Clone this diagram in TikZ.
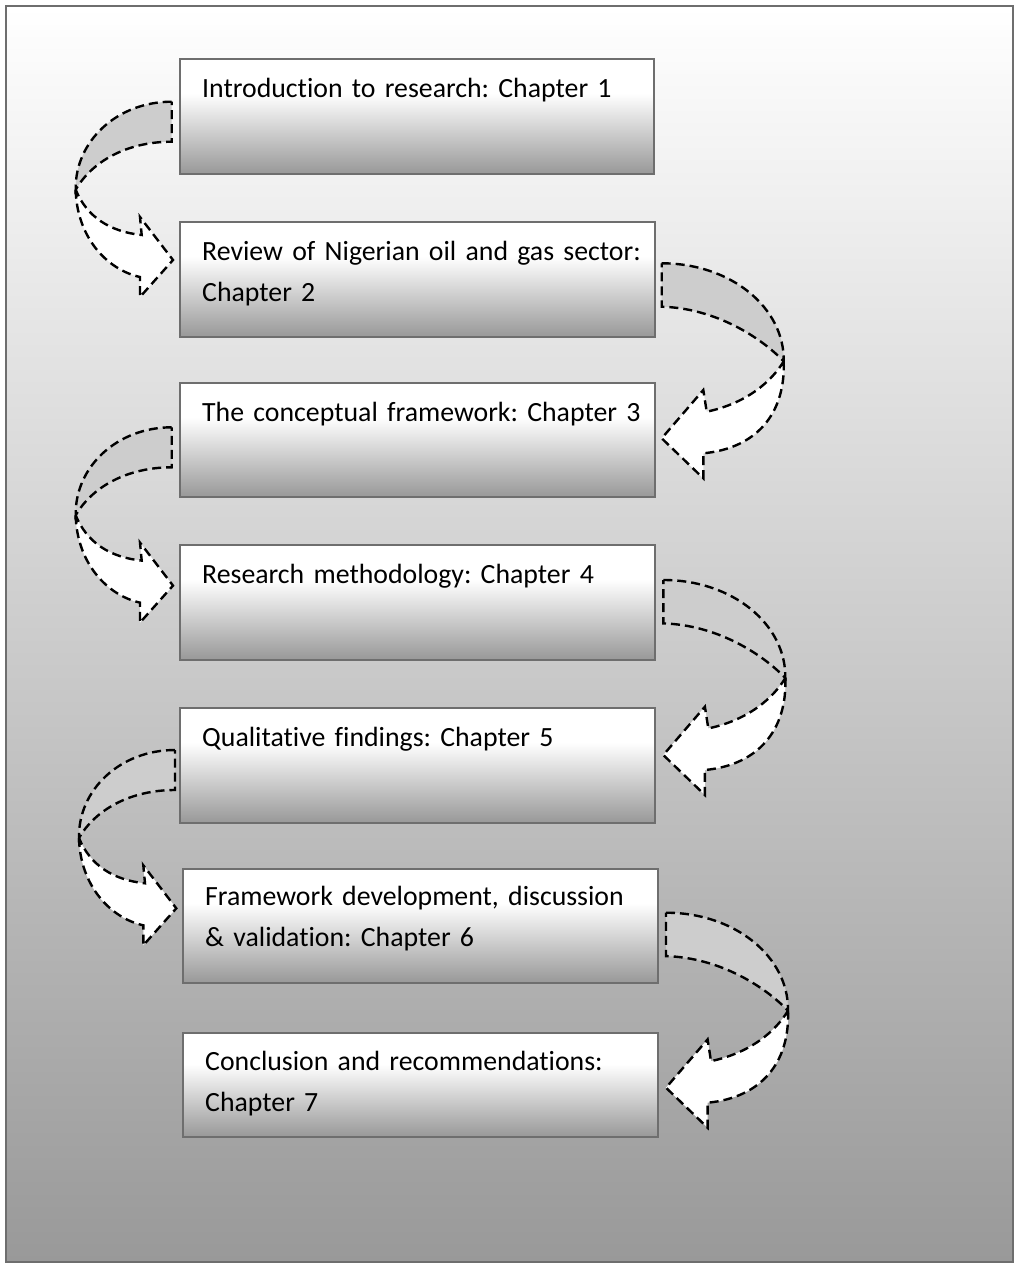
\documentclass[tikz,border=0pt]{standalone}
\usepackage{fontspec}
\setmainfont{Carlito}[RawFeature={-liga;-clig;-calt;-dlig}]
\usetikzlibrary{calc}
\definecolor{bgbot}{HTML}{999999}
\definecolor{framec}{HTML}{6E6E6E}
\definecolor{boxbot}{HTML}{989898}
\definecolor{backc}{HTML}{CDCDCD}
\pgfdeclareverticalshading{chapshade}{100bp}{color(0bp)=(boxbot); color(25bp)=(boxbot); color(60bp)=(white); color(75bp)=(white); color(100bp)=(white)}
\tikzset{
  chapbox/.style={draw=framec, line width=2.6pt, shade, shading=chapshade, anchor=north west, inner sep=0pt, outer sep=0pt, minimum width=475pt, minimum height=115pt},
  chaptext/.style={anchor=base west, inner sep=0pt, text width=450pt, align=left, font=\fontsize{27.8pt}{41pt}\selectfont\frenchspacing},
  arrowline/.style={draw=black, line width=2.4pt, dash pattern=on 9pt off 5pt},
  pics/larrow/.style={code={
    \path[arrowline, fill=white] (-96,88) .. controls (-95,135) and (-65,168) .. (-31.7,175.3) -- (-31.7,195.3) -- (1.3,158.3) -- (-31.7,115.3) -- (-30,133.3) .. controls (-62,130) and (-85,115) .. (-96,88) -- cycle;
    \path[arrowline, fill=backc] (0,0) .. controls (-55,0) and (-97,40) .. (-96,88) .. controls (-80,60) and (-45,40) .. (0,40) -- cycle;
  }},
  pics/rarrow/.style={code={
    \path[arrowline, fill=white] (122,98) .. controls (124,150) and (95,185) .. (41.6,190) -- (41.6,215) -- (0,175) -- (41.6,126.7) -- (45,148.4) .. controls (85,140) and (110,118) .. (122,98) -- cycle;
    \path[arrowline, fill=backc] (0,0) .. controls (70,0) and (123,45) .. (122,98) .. controls (100,75) and (55,45) .. (0,43.4) -- cycle;
  }},
}
\begin{document}
\begin{tikzpicture}[x=1pt,y=-1pt]
\useasboundingbox (0,0) rectangle (1019,1267);
\path[top color=white, bottom color=bgbot, draw=framec, line width=2.6pt] (6,6) rectangle (1013,1262);

\node[chapbox, minimum width=474pt] (b1) at (180,59) {};
\node[chapbox] (b2) at (180,222) {};
\node[chapbox, minimum height=114pt] (b3) at (180,383) {};
\node[chapbox] (b4) at (180,545) {};
\node[chapbox] (b5) at (180,708) {};
\node[chapbox, minimum height=114pt] (b6) at (183,869) {};
\node[chapbox, minimum height=104pt] (b7) at (183,1033) {};

\node[chaptext] (t1) at ($(b1.north west)+(22,38)$) {Introduction to research: Chapter 1};
\node[chaptext] (t2) at ($(b2.north west)+(22,38)$) {Review of Nigerian oil and gas sector:\\Chapter 2};
\node[chaptext] (t3) at ($(b3.north west)+(22,38)$) {The conceptual framework: Chapter 3};
\node[chaptext] (t4) at ($(b4.north west)+(22,38)$) {Research methodology: Chapter 4};
\node[chaptext] (t5) at ($(b5.north west)+(22,38)$) {Qualitative findings: Chapter 5};
\node[chaptext] (t6) at ($(b6.north west)+(22,36)$) {Framework development, discussion\\\& validation: Chapter 6};
\node[chaptext] (t7) at ($(b7.north west)+(22,37)$) {Conclusion and recommendations:\\Chapter 7};

\pic at ($(b1.north west)+(-8.3,42.7)$) {larrow};
\pic at ($(b3.north west)+(-8.3,44.3)$) {larrow};
\pic at ($(b5.north west)+(-5,42)$) {larrow};
\pic at ($(b2.north east)+(6.7,41.3)$) {rarrow};
\pic at ($(b4.north east)+(8.3,35)$) {rarrow};
\pic at ($(b6.north east)+(8,43.7)$) {rarrow};
\end{tikzpicture}
\end{document}
